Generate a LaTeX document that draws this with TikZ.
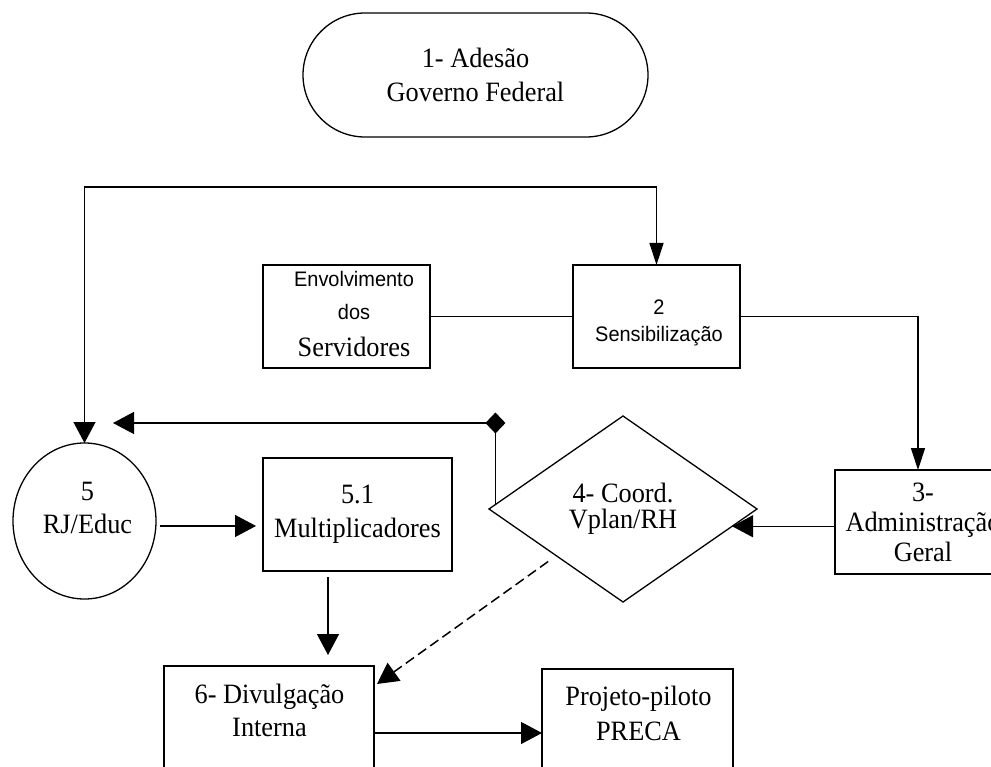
\documentclass[tikz,border=0pt]{standalone}
\usepackage{fontspec}
\setmainfont{Liberation Serif}[FakeStretch=0.94]
\newfontfamily\arialfont{Liberation Sans}[FakeStretch=0.95]
\usetikzlibrary{arrows.meta,shapes.geometric}
\begin{document}
\begin{tikzpicture}[x=1pt,y=-1pt,
  every node/.style={inner sep=0pt, outer sep=0pt},
  outline/.style={draw=black, line width=1.3pt},
  boxnode/.style={outline, rectangle},
  txt/.style={align=center, font=\fontsize{28}{#1}\selectfont},
  txt/.default=34,
  link/.style={line width=1.3pt},
  widearrow/.style={link, -{Triangle[length=21pt,width=22pt]}},
  narrowarrow/.style={link, -{Triangle[length=22pt,width=14pt]}},
  marker/.style={diamond, fill=black, minimum width=20pt, minimum height=21pt},
]
\useasboundingbox (0,0) rectangle (991,767);
\clip (0,0) rectangle (991,767);

% start terminator
\node[outline, rectangle, rounded corners=62pt, minimum width=345pt,
      minimum height=124pt, txt] (t1) at (475.5,75) {1- Adesão\\Governo Federal};

% upper row
\node[boxnode, minimum width=167pt, minimum height=103pt] (env) at (346.5,316.5) {};
\node[align=center, font=\fontsize{28}{33}\selectfont] (envt) at (354,314.5)
  {{\arialfont\fontsize{21}{33}\selectfont Envolvimento}\\
   {\arialfont\fontsize{21}{33}\selectfont dos}\\[4pt]Servidores};
\node[boxnode, minimum width=167pt, minimum height=103pt] (b2) at (656.5,316.5) {};
\node[align=center, font=\arialfont\fontsize{21}{27}\selectfont] (b2t) at (659,322.4)
  {2\\Sensibilização};

% middle row
\node[outline, ellipse, minimum width=143pt, minimum height=156pt] (c5) at (84.5,521) {};
\node[txt=33] (c5t) at (87.5,508) {5\\RJ/Educ};
\node[boxnode, minimum width=189pt, minimum height=113pt, txt] (b51) at (357.5,514.5)
  {5.1\\Multiplicadores};
\node[outline, diamond, minimum width=268pt, minimum height=186pt, txt=26] (d4) at (623,509)
  {4- Coord.\\Vplan/RH};
\node[boxnode, minimum width=176pt, minimum height=104pt, txt=30] (b3) at (923,522)
  {3-\\Administração\\Geral};

% bottom row
\node[boxnode, minimum width=210pt, minimum height=134pt] (b6) at (269,733) {};
\node[txt=33] (b6t) at (269.5,710.6) {6- Divulgação\\Interna};
\node[boxnode, minimum width=191pt, minimum height=128pt] (proj) at (637.5,733) {};
\node[txt=35] (projt) at (638.5,713) {Projeto-piloto\\PRECA};

% connectors
\coordinate (looptop) at (84.5,187);
\draw[link, {Triangle[length=21pt,width=22pt]}-{Triangle[length=22pt,width=14pt]}]
  (c5.north) -- (c5.north |- looptop) -| (b2.north);
\draw[link] (env.east) -- (b2.west);
\draw[narrowarrow] (b2.east) -| ([xshift=-5pt]b3.north);
\draw[widearrow] (b3.west |- d4.-9) -- (d4.-9);
\coordinate (fbend) at (113,423);
\draw[widearrow] (d4.178) |- node[marker, pos=0.5] (mk) {} (fbend);
\draw[widearrow, shorten <=4pt, shorten >=7pt] (c5.-4) -- (c5.-4 -| b51.west);
\draw[widearrow, shorten <=6pt, shorten >=11pt]
  ([xshift=-29.5pt]b51.south) -- ([xshift=-29.5pt]b51.south |- b6.north);
\draw[widearrow, line width=1.5pt, dash pattern=on 10pt off 5pt, shorten <=10pt]
  (d4.215) -- ([shift={(3,18)}]b6.north east);
\draw[widearrow] (b6.east) -- (proj.west);
\end{tikzpicture}
\end{document}
